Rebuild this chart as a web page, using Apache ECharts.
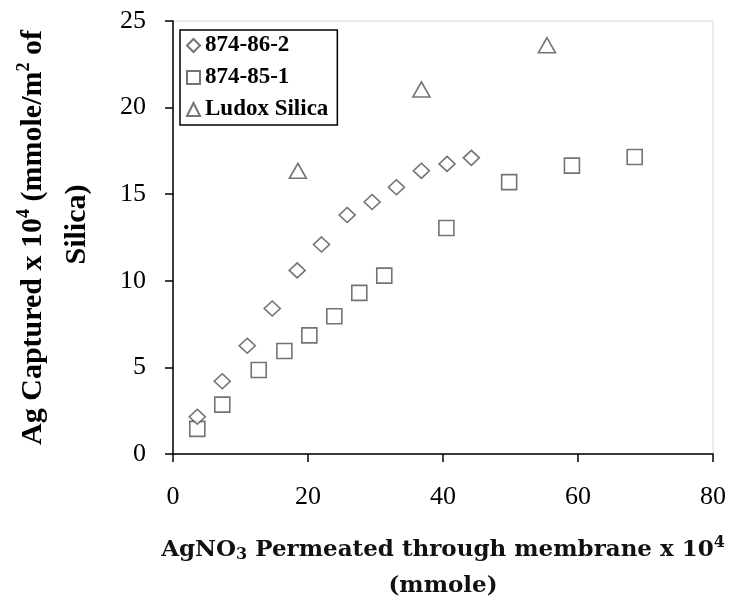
<!DOCTYPE html>
<html>
<head>
<meta charset="utf-8">
<script src="https://cdn.jsdelivr.net/npm/echarts@6/dist/echarts.min.js"></script>
<style>
html,body{margin:0;padding:0;background:#fff;}
#chart{width:742px;height:601px;}
</style>
</head>
<body>
<div id="chart"></div>
<script>
// ---- data ----
const seriesNames = ['874-86-2', '874-85-1', 'Ludox Silica'];
const x86 = [3.6, 7.3, 11.0, 14.7, 18.4, 22.0, 25.8, 29.5, 33.1, 36.8, 40.6, 44.2];
const y86 = [2.15, 4.2, 6.25, 8.4, 10.6, 12.1, 13.8, 14.55, 15.4, 16.35, 16.75, 17.1];
const x85 = [3.6, 7.3, 12.7, 16.5, 20.2, 23.9, 27.6, 31.3, 40.5, 49.8, 59.1, 68.4];
const y85 = [1.45, 2.85, 4.85, 5.95, 6.85, 7.95, 9.3, 10.3, 13.05, 15.7, 16.65, 17.15];
const xLudox = [18.5, 36.8, 55.4];
const yLudox = [16.35, 21.05, 23.6];
const xTicks = [0, 20, 40, 60, 80];
const yTicks = [0, 5, 10, 15, 20, 25];

const pair = (xs, ys) => xs.map((x, i) => [x, ys[i]]);

const markStyle = {color: '#ffffff', borderColor: '#505050', borderWidth: 1.6};

const chart = echarts.init(document.getElementById('chart'), null, {renderer: 'canvas'});
chart.setOption({
  backgroundColor: '#ffffff',
  animation: false,
  grid: {left: 173, right: 29, top: 21, bottom: 147, outerBoundsMode: 'none', containLabel: false, show: true, borderColor: '#d8d8d8', borderWidth: 1, backgroundColor: 'transparent'},
  legend: {
    orient: 'vertical', left: 180, top: 30,
    data: seriesNames,
    itemWidth: 13, itemHeight: 13, itemGap: 9,
    padding: [4, 9, 4, 6],
    borderColor: '#000', borderWidth: 1.5,
    textStyle: {fontFamily: 'Liberation Serif', fontWeight: 'bold', fontSize: 23, color: '#000', lineHeight: 23}
  },
  xAxis: {
    type: 'value', min: xTicks[0], max: xTicks[xTicks.length - 1], interval: 20,
    splitLine: {show: false},
    axisLine: {lineStyle: {color: '#000', width: 1.5}},
    axisTick: {show: true, length: 8, inside: false, lineStyle: {color: '#000', width: 1.5}},
    axisLabel: {margin: 30, fontFamily: 'Liberation Serif', fontSize: 26, color: '#000'},
    name: 'AgNO{sub|3} Permeated through membrane x 10{sup|4}\n(mmole)',
    nameLocation: 'middle', nameGap: 78,
    nameTextStyle: {
      fontFamily: 'DejaVu Serif', fontWeight: 'bold', fontSize: 23, color: '#111', lineHeight: 36,
      rich: {
        sub: {fontFamily: 'DejaVu Serif', fontWeight: 'bold', fontSize: 16, color: '#111', padding: [10, 0, 0, 0], lineHeight: 36},
        sup: {fontFamily: 'DejaVu Serif', fontWeight: 'bold', fontSize: 16, color: '#111', padding: [0, 0, 14, 0], lineHeight: 36}
      }
    }
  },
  yAxis: {
    type: 'value', min: yTicks[0], max: yTicks[yTicks.length - 1], interval: 5,
    splitLine: {show: false},
    axisLine: {show: true, lineStyle: {color: '#000', width: 1.5}},
    axisTick: {show: true, length: 8, inside: false, lineStyle: {color: '#000', width: 1.5}},
    axisLabel: {margin: 27, fontFamily: 'Liberation Serif', fontSize: 26, color: '#000'},
    name: 'Ag Captured x 10{sup|4} (mmole/m{sup|2} of\n{l2|Silica)}',
    nameLocation: 'middle', nameRotate: 90, nameGap: 74,
    nameTextStyle: {
      fontFamily: 'Liberation Serif', fontWeight: 'bold', fontSize: 30, color: '#000', lineHeight: 44,
      rich: {
        sup: {fontFamily: 'Liberation Serif', fontWeight: 'bold', fontSize: 18, color: '#000', padding: [0, 0, 18, 0], lineHeight: 44},
        l2: {fontFamily: 'Liberation Serif', fontWeight: 'bold', fontSize: 30, color: '#000', padding: [0, 0, 0, 26], lineHeight: 44}
      }
    }
  },
  series: [
    {name: seriesNames[0], type: 'scatter', symbol: 'diamond', symbolSize: [16, 15], itemStyle: markStyle, data: pair(x86, y86), z: 3},
    {name: seriesNames[1], type: 'scatter', symbol: 'rect', symbolSize: 15, itemStyle: markStyle, data: pair(x85, y85), z: 2},
    {name: seriesNames[2], type: 'scatter', symbol: 'triangle', symbolSize: [17, 15], itemStyle: markStyle, data: pair(xLudox, yLudox), z: 2}
  ]
});
</script>
</body>
</html>
